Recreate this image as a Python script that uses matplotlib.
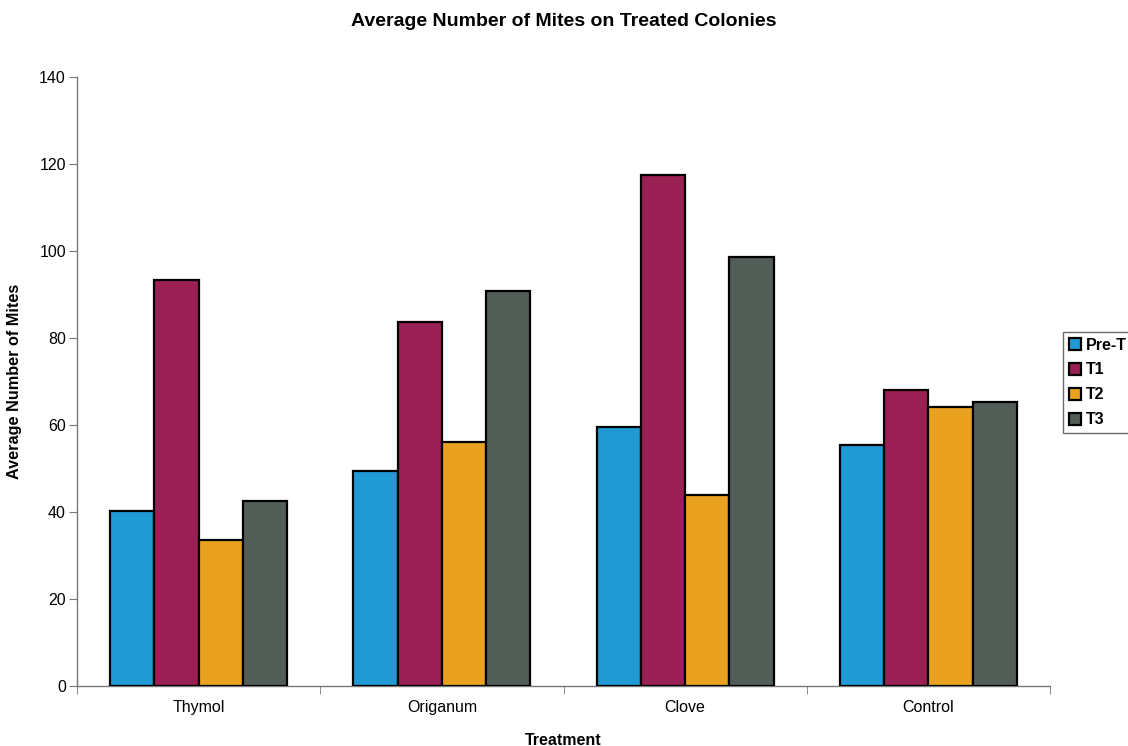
import matplotlib
matplotlib.use("Agg")
import matplotlib.pyplot as plt
import numpy as np

plt.rcParams['font.family'] = ['Liberation Sans', 'DejaVu Sans']

categories = ["Thymol", "Origanum", "Clove", "Control"]
series_names = ["Pre-T", "T1", "T2", "T3"]
pre_t = [40.2, 49.4, 59.6, 55.3]
t1 = [93.3, 83.7, 117.5, 68.0]
t2 = [33.6, 56.2, 43.9, 64.2]
t3 = [42.6, 90.9, 98.6, 65.2]
colors = ["#1f9ad5", "#9a1f53", "#e9a11f", "#535d57"]

fig = plt.figure(figsize=(11.28, 7.46), dpi=100)
ax = fig.add_axes([77/1128, 1-686/746, (1050-77)/1128, (686-77)/746])

x = np.arange(len(categories))
bw = 0.182
data = [pre_t, t1, t2, t3]
for i, (vals, name, c) in enumerate(zip(data, series_names, colors)):
    ax.bar(x + (i - 1.5) * bw, vals, width=bw, color=c, edgecolor="black",
           linewidth=1.6, label=name, zorder=3)

ax.set_xlim(-0.5, len(categories) - 0.5)
ax.set_ylim(0, 140)
ax.set_yticks(np.arange(0, 141, 20))
ax.set_xticks(x)
ax.set_xticklabels(categories, fontsize=11.5)
ax.tick_params(axis='x', length=0, pad=10)
ax.set_xticks(np.arange(-0.5, len(categories), 1), minor=True)
ax.tick_params(axis='x', which='minor', length=6, color="#777777", direction='out')
ax.tick_params(axis='y', labelsize=11.5, length=6, color="#777777", direction='out', pad=2)

for s in ["top", "right"]:
    ax.spines[s].set_visible(False)
for s in ["left", "bottom"]:
    ax.spines[s].set_color("#777777")
    ax.spines[s].set_linewidth(1.0)

ax.set_xlabel("Treatment", fontsize=11.5, fontweight="bold", labelpad=13)
ax.set_ylabel("Average Number of Mites", fontsize=11.7, fontweight="bold", labelpad=12)
fig.text(0.5, 1-21/746, "Average Number of Mites on Treated Colonies",
         ha="center", va="center", fontsize=14, fontweight="bold")

leg = fig.legend(loc="upper left", bbox_to_anchor=(1063/1128, 1-332/746),
                 frameon=True, fancybox=False, fontsize=11.5, handlelength=0.8,
                 handleheight=0.8, handletextpad=0.3, labelspacing=0.62,
                 borderpad=0.35, borderaxespad=0)
leg.get_frame().set_edgecolor("#444444")
leg.get_frame().set_linewidth(1.0)
for t in leg.get_texts():
    t.set_fontweight("bold")

fig.savefig("out.png", dpi=100)
